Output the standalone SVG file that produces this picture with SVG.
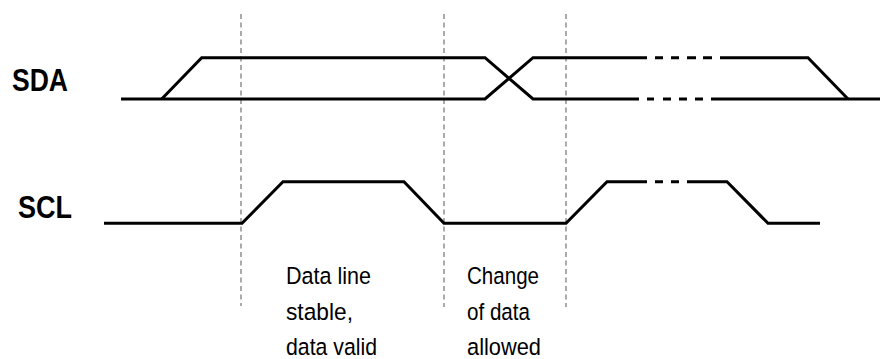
<svg xmlns="http://www.w3.org/2000/svg" width="886" height="359" viewBox="0 0 886 359">
<style>
.sig{fill:none;stroke:#000;stroke-width:3;stroke-linejoin:miter;stroke-linecap:butt}
.guide{fill:none;stroke:#aaa;stroke-width:2;stroke-dasharray:5 3.5}
.name{font-family:"Liberation Sans",Arial,sans-serif;font-weight:bold;font-size:32px;fill:#000}
.note{font-family:"Liberation Sans",Arial,sans-serif;font-size:24.5px;fill:#000}
</style>
<rect width="886" height="359" fill="#fff"/>
<g id="guides">
<line class="guide" x1="241" y1="14" x2="241" y2="306"/>
<line class="guide" x1="444" y1="14" x2="444" y2="307"/>
<line class="guide" x1="566" y1="14" x2="566" y2="307"/>
</g>
<g id="sda">
<text class="name" x="12" y="91" textLength="56" lengthAdjust="spacingAndGlyphs">SDA</text>
<polyline class="sig" points="121,99 485,99 533,57.7 647,57.7"/>
<polyline class="sig" points="161.7,99 201.7,57.7 485,57.7 533,99 639,99"/>
<path class="sig" d="M655,57.7H663M671,57.7H679M687,57.7H696M703,57.7H712"/>
<path class="sig" d="M647,99H654M663,99H671M679,99H687M695,99H703"/>
<polyline class="sig" points="720,57.7 808,57.7 848,99"/>
<line class="sig" x1="711" y1="99" x2="880" y2="99"/>
</g>
<g id="scl">
<text class="name" x="18" y="217.5" textLength="54" lengthAdjust="spacingAndGlyphs">SCL</text>
<polyline class="sig" points="104,223.3 242,223.3 283,181.7 404,181.7 444,223.3 566,223.3 607,181.7 647,181.7"/>
<path class="sig" d="M655,181.7H663M671,181.7H679"/>
<polyline class="sig" points="687,181.7 727,181.7 768,223.3 820,223.3"/>
</g>
<g id="label-stable">
<text class="note" x="286" y="284" textLength="85" lengthAdjust="spacingAndGlyphs">Data line</text>
<text class="note" x="286" y="319.5" textLength="67" lengthAdjust="spacingAndGlyphs">stable,</text>
<text class="note" x="286" y="355" textLength="91" lengthAdjust="spacingAndGlyphs">data valid</text>
</g>
<g id="label-change">
<text class="note" x="467" y="284" textLength="72" lengthAdjust="spacingAndGlyphs">Change</text>
<text class="note" x="467" y="319.5" textLength="63" lengthAdjust="spacingAndGlyphs">of data</text>
<text class="note" x="467" y="355" textLength="74" lengthAdjust="spacingAndGlyphs">allowed</text>
</g>
</svg>
